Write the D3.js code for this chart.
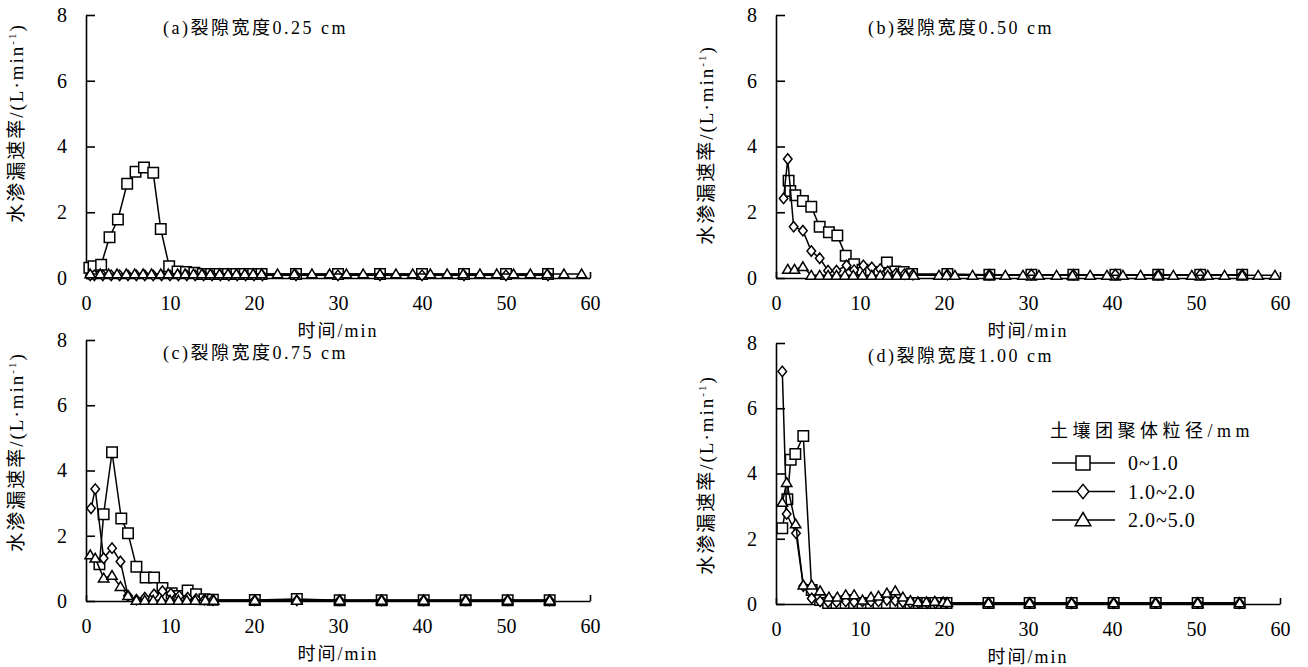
<!DOCTYPE html>
<html>
<head>
<meta charset="utf-8">
<script src="https://cdn.jsdelivr.net/npm/d3@7"></script>
<style>
  body { margin: 0; background: #fff; }
  text { font-family: "Liberation Serif", "Times New Roman", "Noto Sans CJK SC", serif; fill: #000; }
</style>
</head>
<body>
<svg id="chart" width="1308" height="667"></svg>
<script>
// tick labels
const xTicks = [0, 10, 20, 30, 40, 50, 60];
const yTicks = [0, 2, 4, 6, 8];
const seriesNames = ['0~1.0', '1.0~2.0', '2.0~5.0'];

// (a) 0.25 cm
const aSqT = [0.4, 0.9, 1.8, 2.8, 3.8, 4.9, 5.9, 6.9, 8.0, 8.9, 9.9, 10.9, 11.9, 12.9, 13.9, 14.9, 15.9, 16.9, 17.9, 18.9, 19.9, 20.9, 25.0, 30.0, 35.0, 40.0, 45.0, 50.0, 55.0];
const aSqV = [0.31, 0.36, 0.40, 1.24, 1.78, 2.87, 3.23, 3.36, 3.20, 1.49, 0.36, 0.20, 0.18, 0.16, 0.12, 0.12, 0.12, 0.12, 0.12, 0.12, 0.12, 0.12, 0.12, 0.12, 0.12, 0.12, 0.12, 0.12, 0.12];
const aDiT = [0.5, 1.0, 2.0, 3.0, 4.0, 5.0, 6.0, 7.0, 8.0, 9.0, 10.0, 11.0, 12.0, 13.0, 14.0, 15.0, 16.0, 17.0, 18.0, 19.0, 20.0, 21.0, 25.0, 30.0, 35.0, 40.0, 45.0, 50.0, 55.0];
const aDiV = [0.08, 0.08, 0.08, 0.08, 0.08, 0.08, 0.08, 0.08, 0.08, 0.08, 0.08, 0.08, 0.08, 0.08, 0.08, 0.08, 0.08, 0.08, 0.08, 0.08, 0.08, 0.08, 0.08, 0.08, 0.08, 0.08, 0.08, 0.08, 0.08];
const aTrT = [0.5, 1.7, 2.7, 3.7, 4.8, 5.8, 6.8, 7.8, 8.9, 9.8, 10.9, 11.8, 12.8, 13.8, 14.8, 15.9, 16.9, 17.9, 18.9, 19.9, 20.9, 22.8, 24.8, 26.9, 29.0, 31.0, 33.0, 35.0, 36.9, 38.9, 41.0, 43.0, 44.9, 46.9, 48.9, 50.9, 52.9, 54.9, 56.9, 59.0];
const aTrV = [0.12, 0.12, 0.12, 0.12, 0.12, 0.12, 0.12, 0.12, 0.12, 0.12, 0.12, 0.12, 0.12, 0.12, 0.12, 0.12, 0.12, 0.12, 0.12, 0.12, 0.12, 0.12, 0.12, 0.12, 0.12, 0.12, 0.12, 0.12, 0.12, 0.12, 0.12, 0.12, 0.12, 0.12, 0.12, 0.12, 0.12, 0.12, 0.12, 0.12];

// (b) 0.50 cm
const bSqT = [1.5, 1.7, 2.3, 3.2, 4.2, 5.2, 6.3, 7.3, 8.3, 9.3, 10.3, 11.3, 12.3, 13.2, 14.2, 15.2, 16.2, 20.4, 25.4, 30.4, 35.4, 40.4, 45.5, 50.5, 55.5];
const bSqV = [2.96, 2.65, 2.52, 2.34, 2.17, 1.56, 1.39, 1.29, 0.68, 0.42, 0.25, 0.18, 0.15, 0.47, 0.20, 0.18, 0.12, 0.12, 0.10, 0.10, 0.10, 0.10, 0.10, 0.10, 0.10];
const bDiT = [0.9, 1.4, 2.1, 3.2, 4.2, 5.2, 6.2, 7.2, 8.4, 9.3, 10.4, 11.4, 12.4, 13.3, 14.3, 15.3, 16.3, 20.4, 25.4, 30.4, 35.4, 40.4, 45.5, 50.5, 55.5];
const bDiV = [2.42, 3.62, 1.56, 1.44, 0.82, 0.60, 0.22, 0.22, 0.38, 0.24, 0.38, 0.32, 0.27, 0.20, 0.14, 0.12, 0.10, 0.10, 0.10, 0.10, 0.10, 0.10, 0.10, 0.10, 0.10];
const bTrT = [1.4, 2.2, 3.2, 4.2, 5.2, 6.2, 7.2, 8.2, 9.2, 10.3, 11.4, 12.4, 13.3, 14.4, 15.4, 16.4, 19.4, 20.3, 21.3, 23.4, 25.4, 27.3, 29.4, 31.3, 33.4, 35.3, 37.4, 39.4, 41.3, 43.4, 45.5, 47.3, 49.5, 51.4, 53.4, 55.5, 57.4, 59.4];
const bTrV = [0.26, 0.26, 0.34, 0.08, 0.08, 0.08, 0.08, 0.08, 0.08, 0.08, 0.08, 0.08, 0.08, 0.08, 0.08, 0.08, 0.08, 0.08, 0.08, 0.08, 0.08, 0.08, 0.08, 0.08, 0.08, 0.08, 0.08, 0.08, 0.08, 0.08, 0.08, 0.08, 0.08, 0.08, 0.08, 0.08, 0.08, 0.08];

// (c) 0.75 cm
const cSqT = [1.6, 2.1, 3.1, 4.2, 5.0, 6.0, 7.1, 8.1, 9.1, 10.2, 11.1, 12.1, 13.1, 14.1, 15.1, 20.1, 25.1, 30.2, 35.2, 40.2, 45.2, 50.2, 55.2];
const cSqV = [1.13, 2.66, 4.56, 2.53, 2.08, 1.05, 0.72, 0.72, 0.40, 0.24, 0.15, 0.32, 0.21, 0.05, 0.04, 0.03, 0.06, 0.02, 0.02, 0.02, 0.02, 0.02, 0.02];
const cDiT = [0.6, 1.1, 2.1, 3.1, 4.1, 5.0, 6.0, 7.0, 8.1, 9.1, 10.1, 11.1, 12.1, 13.1, 14.1, 15.1, 20.1, 25.1, 30.2, 35.2, 40.2, 45.2, 50.2, 55.2];
const cDiV = [2.84, 3.43, 1.31, 1.62, 1.21, 0.16, 0.04, 0.10, 0.20, 0.30, 0.22, 0.15, 0.10, 0.06, 0.04, 0.03, 0.02, 0.02, 0.02, 0.02, 0.02, 0.02, 0.02, 0.02];
const cTrT = [0.5, 1.1, 2.1, 3.1, 4.1, 5.0, 6.0, 7.0, 8.0, 9.0, 10.0, 11.0, 12.0, 13.0, 14.2, 15.2, 20.1, 25.1, 30.2, 35.2, 40.2, 45.2, 50.2, 55.2];
const cTrV = [1.41, 1.31, 0.70, 0.78, 0.44, 0.16, 0.02, 0.02, 0.02, 0.02, 0.02, 0.02, 0.02, 0.02, 0.02, 0.02, 0.02, 0.02, 0.02, 0.02, 0.02, 0.02, 0.02, 0.02];

// (d) 1.00 cm
const dSqT = [0.75, 1.35, 1.75, 2.3, 3.25, 4.25, 5.25, 6.2, 7.2, 8.3, 9.3, 10.3, 11.3, 12.2, 13.2, 14.2, 15.1, 16.0, 17.0, 18.0, 19.0, 20.3, 25.3, 30.2, 35.2, 40.2, 45.2, 50.2, 55.2];
const dSqV = [2.32, 3.21, 4.42, 4.60, 5.15, 0.43, 0.12, 0.03, 0.03, 0.03, 0.03, 0.03, 0.03, 0.03, 0.03, 0.03, 0.03, 0.03, 0.03, 0.03, 0.03, 0.03, 0.03, 0.03, 0.03, 0.03, 0.03, 0.03, 0.03];
const dDiT = [0.75, 1.27, 2.38, 3.25, 4.25, 5.25, 6.2, 7.2, 8.3, 9.3, 10.3, 11.3, 12.2, 13.2, 14.2, 15.1, 16.0, 17.0, 18.0, 19.0, 20.3, 25.3, 30.2, 35.2, 40.2, 45.2, 50.2, 55.2];
const dDiV = [7.13, 2.76, 2.17, 0.55, 0.17, 0.08, 0.06, 0.06, 0.08, 0.06, 0.08, 0.08, 0.08, 0.12, 0.10, 0.06, 0.04, 0.03, 0.03, 0.03, 0.03, 0.03, 0.03, 0.03, 0.03, 0.03, 0.03, 0.03];
const dTrT = [0.75, 1.27, 2.34, 3.25, 4.25, 5.25, 6.3, 7.3, 8.3, 9.3, 10.3, 11.3, 12.2, 13.2, 14.2, 15.1, 16.0, 16.9, 17.9, 18.9, 19.9, 20.4, 25.3, 30.2, 35.2, 40.2, 45.2, 50.2, 55.2];
const dTrV = [3.11, 3.72, 2.45, 0.58, 0.58, 0.40, 0.21, 0.21, 0.28, 0.28, 0.12, 0.21, 0.24, 0.33, 0.40, 0.21, 0.10, 0.06, 0.06, 0.08, 0.06, 0.04, 0.03, 0.03, 0.03, 0.03, 0.03, 0.03, 0.03];

const svg = d3.select('#chart');

// layout of the four panels
const panels = [
  { title: '(a)裂隙宽度0.25 cm', left: 86, top: 15, bottom: 278, titleX: 163, yLabelMid: 123,
    series: [[aSqT, aSqV], [aDiT, aDiV], [aTrT, aTrV]] },
  { title: '(b)裂隙宽度0.50 cm', left: 776, top: 15, bottom: 278, titleX: 868, yLabelMid: 145,
    series: [[bSqT, bSqV], [bDiT, bDiV], [bTrT, bTrV]] },
  { title: '(c)裂隙宽度0.75 cm', left: 86, top: 340, bottom: 601, titleX: 163, yLabelMid: 452,
    series: [[cSqT, cSqV], [cDiT, cDiV], [cTrT, cTrV]] },
  { title: '(d)裂隙宽度1.00 cm', left: 776, top: 343, bottom: 604, titleX: 868, yLabelMid: 475,
    series: [[dSqT, dSqV], [dDiT, dDiV], [dTrT, dTrV]] }
];

// marker paths, s = size
const shapes = [
  s => `M${-s / 2},${-s / 2}h${s}v${s}h${-s}Z`,
  s => `M0,${-s * 0.55}L${s * 0.45},0L0,${s * 0.55}L${-s * 0.45},0Z`,
  s => `M0,${-s * 0.5}L${s * 0.52},${s * 0.38}L${-s * 0.52},${s * 0.38}Z`
];
const markerSize = [10.5, 9.5, 10];

panels.forEach(p => {
  const x = d3.scaleLinear().domain([0, 60]).range([p.left, p.left + 504]);
  const y = d3.scaleLinear().domain([0, 8]).range([p.bottom, p.top]);
  const g = svg.append('g');

  const xa = g.append('g')
    .attr('transform', `translate(0,${p.bottom})`)
    .call(d3.axisBottom(x).tickValues(xTicks).tickSize(-6).tickSizeOuter(0).tickPadding(18));
  const ya = g.append('g')
    .attr('transform', `translate(${p.left},0)`)
    .call(d3.axisLeft(y).tickValues(yTicks).tickSize(-9).tickSizeOuter(0).tickPadding(19));
  [xa, ya].forEach(a => {
    a.attr('font-family', null).attr('font-size', 20);
    a.select('.domain').attr('stroke-width', 1.6);
    a.selectAll('.tick line').attr('stroke-width', 1.6);
  });

  // data
  const line = d3.line().x(d => x(d[0])).y(d => y(d[1]));
  p.series.forEach((s, i) => {
    const pts = d3.zip(s[0], s[1]);
    g.append('path').datum(pts)
      .attr('d', line).attr('fill', 'none').attr('stroke', '#000').attr('stroke-width', 1.5);
    g.selectAll(null).data(pts).enter().append('path')
      .attr('transform', d => `translate(${x(d[0])},${y(d[1])})`)
      .attr('d', shapes[i](markerSize[i]))
      .attr('fill', '#fff').attr('stroke', '#000').attr('stroke-width', 1.5);
  });

  // texts
  g.append('text').attr('x', p.titleX).attr('y', p.top + 19)
    .attr('font-size', 18).attr('letter-spacing', 2.5).text(p.title);

  g.append('text').attr('x', p.left + 252).attr('y', p.bottom + 59)
    .attr('text-anchor', 'middle').attr('font-size', 18).attr('letter-spacing', 2).text('时间/min');

  const yt = g.append('text')
    .attr('transform', `translate(${p.left - 63},${p.yLabelMid}) rotate(-90)`)
    .attr('text-anchor', 'middle').attr('font-size', 19).attr('letter-spacing', 2);
  yt.append('tspan').text('水渗漏速率/(L·min');
  yt.append('tspan').attr('dy', -7).attr('font-size', 11).text('-1');
  yt.append('tspan').attr('dy', 7).text(')');
});

// legend
const legend = svg.append('g');
legend.append('text').attr('x', 1050).attr('y', 437)
  .attr('font-size', 18).attr('letter-spacing', 4.5).text('土壤团聚体粒径/mm');
const legendSize = [14, 13, 15];
seriesNames.forEach((name, i) => {
  const ly = 463 + i * 28.5;
  legend.append('line').attr('x1', 1052).attr('x2', 1115).attr('y1', ly).attr('y2', ly)
    .attr('stroke', '#000').attr('stroke-width', 1.5);
  legend.append('path').attr('transform', `translate(1083,${ly})`)
    .attr('d', shapes[i](legendSize[i]))
    .attr('fill', '#fff').attr('stroke', '#000').attr('stroke-width', 1.5);
  legend.append('text').attr('x', 1128).attr('y', ly + 7)
    .attr('font-size', 20).attr('letter-spacing', 1).text(name);
});
</script>
</body>
</html>
